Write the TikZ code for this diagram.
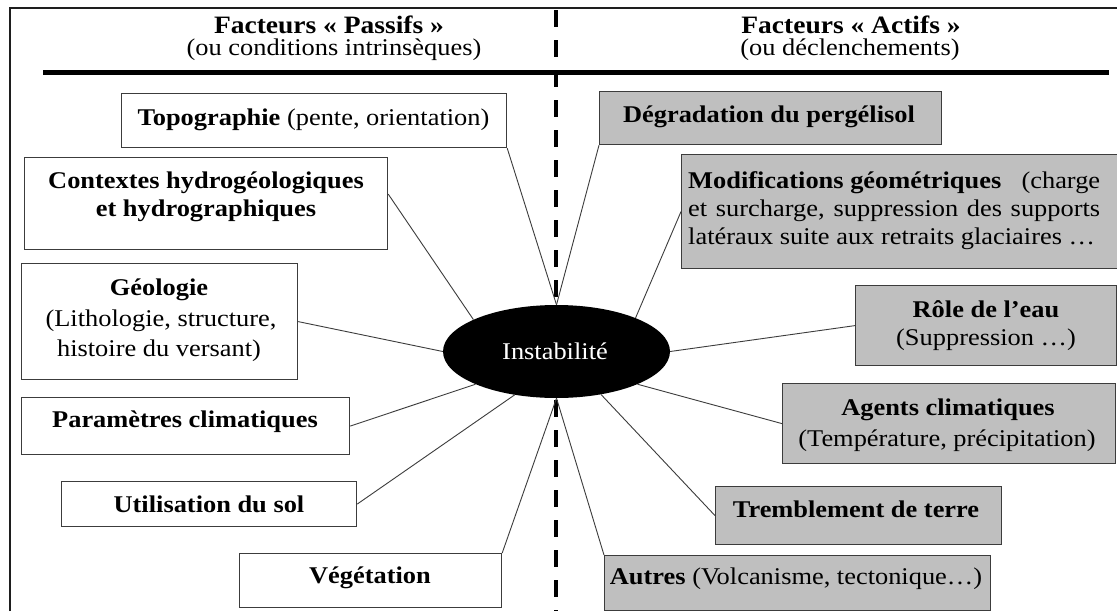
\documentclass[tikz,border=0pt]{standalone}
\usepackage{fontspec}
\setmainfont{Liberation Serif}[FakeStretch=1.1]
\usetikzlibrary{shapes.geometric}
\definecolor{boxgray}{RGB}{191,191,191}
\definecolor{edgecol}{RGB}{60,60,60}
\definecolor{framecol}{RGB}{30,30,30}
\tikzset{
  pbox/.style={draw=edgecol, line width=1.2pt, fill=white, anchor=north west, inner sep=0pt},
  abox/.style={pbox, fill=boxgray},
  txt/.style={anchor=base, inner sep=0pt, font=\fontsize{24}{29}\selectfont},
  htxt/.style={txt, font=\fontsize{25}{30}\selectfont},
  conn/.style={draw=edgecol, line width=0.9pt},
  frame/.style={draw=framecol, line width=2.2pt},
}
\begin{document}
\begin{tikzpicture}[x=1pt,y=-1pt]
\useasboundingbox (0,0) rectangle (1117,611);
\fill[white] (0,0) rectangle (1117,611);
% frame
\coordinate (ftl) at (10,8);
\coordinate (ftr) at (1117,8);
\coordinate (fbl) at (10,611);
\draw[frame] (fbl) -- (ftl) -- (ftr);
\coordinate (hl) at (43,72);
\coordinate (hr) at (1109,72);
\draw[black, line width=5pt] (hl) -- (hr);
\coordinate (dtop) at (556,10);
\coordinate (dbot) at (556,611);
\draw[black, line width=4pt, dash pattern=on 17pt off 13pt] (dtop) -- (dbot);
% headers
\node[htxt] (hp1) at (329,33) {\textbf{Facteurs « Passifs »}};
\node[txt] (hp2) at (334,55) {(ou conditions intrinsèques)};
\node[htxt] (ha1) at (851,33) {\textbf{Facteurs « Actifs »}};
\node[txt] (ha2) at (850,55) {(ou déclenchements)};
% passive boxes
\node[pbox, minimum width=385pt, minimum height=54pt] (topo) at (121,93) {};
\node[pbox, minimum width=363pt, minimum height=92pt] (ctx) at (24,157) {};
\node[pbox, minimum width=276pt, minimum height=116pt] (geo) at (21,263) {};
\node[pbox, minimum width=328pt, minimum height=57pt] (param) at (21,397) {};
\node[pbox, minimum width=295pt, minimum height=45pt] (util) at (61,481) {};
\node[pbox, minimum width=262pt, minimum height=54pt] (veg) at (239,553) {};
% active boxes
\node[abox, minimum width=342pt, minimum height=53pt] (deg) at (599,91) {};
\node[abox, minimum width=436pt, minimum height=114pt] (mod) at (681,154) {};
\node[abox, minimum width=261pt, minimum height=80pt] (role) at (855,285) {};
\node[abox, minimum width=333pt, minimum height=80pt] (agents) at (782,383) {};
\node[abox, minimum width=286pt, minimum height=58pt] (trem) at (715,486) {};
\node[abox, minimum width=386pt, minimum height=55pt] (autres) at (604,555) {};
% centre
\node[ellipse, fill=black, minimum width=227pt, minimum height=93pt, inner sep=0pt] (inst) at (556.5,351.5) {};
% connectors
\draw[conn] (topo.south east) -- (inst.north);
\draw[conn] (ctx.3) -- (inst.159);
\draw[conn] (geo.east) -- (inst.west);
\draw[conn] (param.east) -- (inst.202);
\draw[conn] (util.east) -- (inst.226);
\draw[conn] (veg.north east) -- (inst.south);
\draw[conn] (deg.south west) -- (inst.north);
\draw[conn] (mod.west) -- (inst.23);
\draw[conn] (role.west) -- (inst.east);
\draw[conn] (agents.west) -- (inst.338);
\draw[conn] (trem.west) -- (inst.316);
\draw[conn] (autres.north west) -- (inst.south);
% texts
\node[txt, text=white] (inst-t) at (555,359) {Instabilité};
\node[txt] (topo-t) at (313.5,125) {\textbf{Topographie} (pente, orientation)};
\node[txt] (ctx-t1) at (206,188) {\textbf{Contextes hydrogéologiques}};
\node[txt] (ctx-t2) at (206,216) {\textbf{et hydrographiques}};
\node[txt] (geo-t1) at (159,295) {\textbf{Géologie}};
\node[txt] (geo-t2) at (161,326) {(Lithologie, structure,};
\node[txt] (geo-t3) at (159,356) {histoire du versant)};
\node[txt] (param-t) at (185,427) {\textbf{Paramètres climatiques}};
\node[txt] (util-t) at (209,512) {\textbf{Utilisation du sol}};
\node[txt] (veg-t) at (370,583) {\textbf{Végétation}};
\node[txt] (deg-t) at (769,122) {\textbf{Dégradation du pergélisol}};
\node[txt, anchor=base west] (mod-t1) at (688,188) {\makebox[412pt][s]{\textbf{Modifications géométriques}\hfill(charge}};
\node[txt, anchor=base west] (mod-t2) at (688,216) {\makebox[412pt][s]{et surcharge, suppression des supports}};
\node[txt, anchor=base west] (mod-t3) at (688,244) {latéraux suite aux retraits glaciaires …};
\node[txt] (role-t1) at (986,317) {\textbf{Rôle de l’eau}};
\node[txt] (role-t2) at (986,345) {(Suppression …)};
\node[txt] (agents-t1) at (948,415) {\textbf{Agents climatiques}};
\node[txt] (agents-t2) at (947,446) {(Température, précipitation)};
\node[txt] (trem-t) at (856,517) {\textbf{Tremblement de terre}};
\node[txt] (autres-t) at (796,584) {\textbf{Autres} (Volcanisme, tectonique…)};
\end{tikzpicture}
\end{document}
